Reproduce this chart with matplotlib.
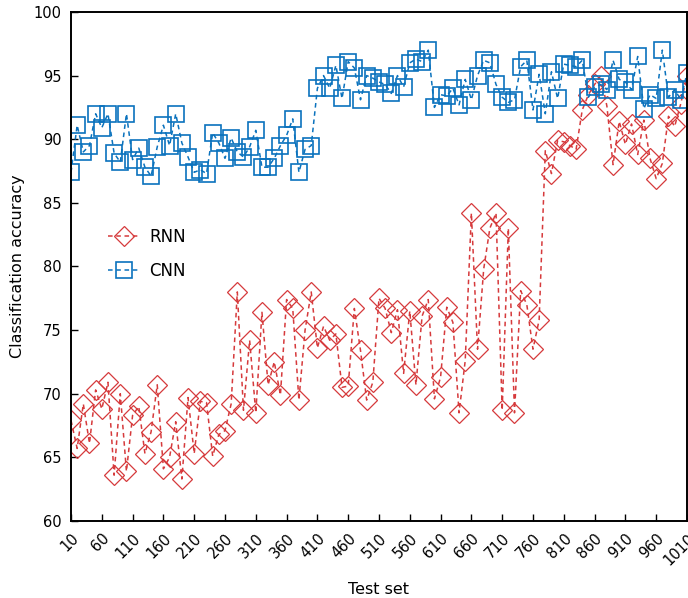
import numpy as np
import matplotlib
matplotlib.use("Agg")
import matplotlib.pyplot as plt

# test set index (every 10 up to 1010)
test_set = np.arange(10, 1011, 10)

rnn_acc = [67.9, 65.7, 69.2, 66.1, 70.3, 68.8, 70.9, 63.6, 70.0, 63.9,
           68.3, 69.0, 65.3, 67.0, 70.7, 64.1, 65.0, 67.8, 63.3, 69.7,
           65.3, 69.4, 69.3, 65.1, 66.8, 67.1, 69.2, 78.0, 68.7, 74.2,
           68.5, 76.4, 70.7, 72.5, 69.9, 77.4, 76.7, 69.5, 75.0, 78.0,
           73.6, 75.3, 74.2, 74.7, 70.5, 70.6, 76.7, 73.4, 69.5, 70.9,
           77.5, 76.7, 74.8, 76.6, 71.6, 76.5, 70.7, 76.1, 77.4, 69.6,
           71.3, 76.8, 75.6, 68.5, 72.6, 84.2, 73.5, 79.8, 83.0, 84.2,
           68.7, 83.0, 68.5, 78.1, 77.0, 73.5, 75.8, 89.1, 87.3, 89.9,
           89.8, 89.5, 89.2, 92.3, 93.5, 94.3, 95.0, 92.6, 88.0, 91.4,
           89.6, 91.2, 88.8, 91.5, 88.5, 86.9, 88.1, 91.8, 91.0, 92.8,
           95.0]

cnn_acc = [87.4, 91.1, 89.0, 89.5, 92.0, 90.9, 92.0, 88.9, 88.2, 92.0,
           88.4, 89.3, 87.8, 87.1, 89.4, 91.1, 89.5, 92.0, 89.7, 88.6,
           87.4, 87.6, 87.3, 90.5, 89.7, 88.5, 90.1, 89.0, 88.6, 89.4,
           90.7, 87.8, 87.8, 88.5, 89.5, 90.3, 91.6, 87.4, 89.2, 89.5,
           94.0, 95.0, 94.0, 95.8, 93.2, 96.1, 95.6, 93.1, 95.0, 94.8,
           94.5, 94.3, 93.6, 95.0, 94.1, 96.0, 96.3, 96.1, 97.0, 92.5,
           93.5, 93.4, 94.0, 92.7, 94.7, 93.1, 95.0, 96.2, 96.0, 94.3,
           93.3, 92.9, 93.1, 95.7, 96.2, 92.3, 95.1, 92.0, 95.3, 93.2,
           95.9, 95.8, 95.7, 96.2, 93.3, 94.1, 94.3, 93.9, 96.2, 94.7,
           94.5, 93.9, 96.5, 92.4, 93.5, 93.2, 97.0, 93.3, 93.9, 93.1,
           95.2]

x_ticks = np.arange(10, 1011, 50)
y_ticks = np.arange(60, 101, 5)

red = '#d63a3c'
blue = '#0a72bd'

fig = plt.figure(figsize=(6.88, 5.98), dpi=100)
ax = fig.add_axes([0.1032, 0.1288, 0.8953, 0.8512])

ax.plot(test_set, rnn_acc, linestyle=(0, (3, 2.4)), lw=1.1, color=red,
        marker='D', ms=10, mfc='none', mec=red, mew=0.9, label='RNN')
ax.plot(test_set, cnn_acc, linestyle=(0, (3, 2.4)), lw=1.1, color=blue,
        marker='s', ms=12, mfc='none', mec=blue, mew=1.2, label='CNN')

ax.set_xlim(10, 1010)
ax.set_ylim(60, 100)
ax.set_xticks(x_ticks)
ax.set_xticklabels([str(t) for t in x_ticks], rotation=45, ha='right',
                   va='top', rotation_mode='anchor')
ax.set_yticks(y_ticks)
ax.tick_params(direction='in', length=5, width=1, labelsize=10.5,
               top=False, right=False, pad=7)
for s in ax.spines.values():
    s.set_linewidth(1.4)

ax.set_xlabel('Test set', fontsize=11.5, labelpad=10)
ax.set_ylabel('Classification accuracy', fontsize=11.5, labelpad=6)

ax.legend(loc='upper left', bbox_to_anchor=(0.035, 0.605), frameon=False,
          fontsize=12, labelspacing=0.95, handlelength=2.0, handletextpad=0.5)

fig.savefig('out.png', dpi=100)
